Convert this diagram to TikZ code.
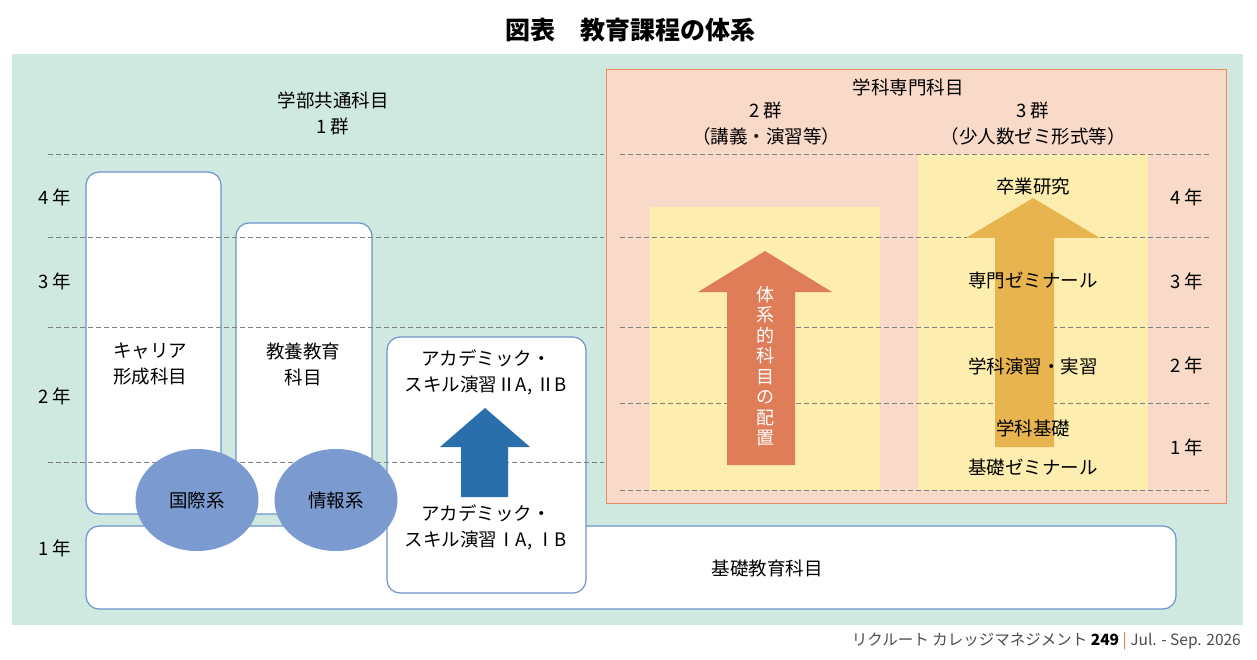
\documentclass[tikz,border=0pt]{standalone}
\usepackage{fontspec}
\setmainfont{Noto Sans CJK JP}
\usetikzlibrary{shapes, positioning}

\definecolor{bggreen}{HTML}{D0E9E0}
\definecolor{pinkbg}{HTML}{F9D9C8}
\definecolor{pinkline}{HTML}{EE8B63}
\definecolor{paleyellow}{HTML}{FDEDAE}
\definecolor{boxblue}{HTML}{6E92CC}
\definecolor{fieldblue}{HTML}{7B9AD0}
\definecolor{arrowblue}{HTML}{2A6EAB}
\definecolor{arroworange}{HTML}{E07D59}
\definecolor{arrowgold}{HTML}{E8B450}
\definecolor{footred}{HTML}{D9763E}

\begin{document}
\begin{tikzpicture}[x=1pt, y=-1pt,
        every node/.style={font=\fontsize{18.5}{26}\selectfont, align=center, inner sep=0pt},
        subject/.style={draw=boxblue, line width=1.2pt, fill=white, rounded corners=13pt},
        field/.style={ellipse, fill=fieldblue, minimum width=123, minimum height=102},
        yearline/.style={gray, dash pattern=on 5pt off 3pt, line width=0.8pt}]
        \useasboundingbox (0,0) rectangle (1257,660);

        % backgrounds
        \fill[bggreen] (12,54) rectangle (1243,625);
        \filldraw[fill=pinkbg, draw=pinkline, line width=1pt] (606,70) rectangle (1226,503);
        \fill[paleyellow] (650,207) rectangle (880,490);
        \fill[paleyellow] (918,154) rectangle (1148,490);

        \node[font=\fontsize{25}{28}\selectfont\bfseries] (title) at (630,30) {図表　教育課程の体系};

        % subjects
        \node[subject, minimum width=1090, minimum height=83] (basic) at (631,567.5) {};
        \node[subject, minimum width=135, minimum height=342] (career) at (153.5,343) {};
        \node[subject, minimum width=136, minimum height=291] (liberal) at (304,368.5) {};
        \node[subject, minimum width=199, minimum height=256] (academic) at (486.5,465) {};

        % year lines
        \foreach \y in {154, 237, 327, 462}
            \draw[yearline] (48,\y) -- (604,\y);
        \foreach \y in {154, 237, 327, 403, 490}
            \draw[yearline] (620,\y) -- (1210,\y);

        % arrows
        \fill[arrowblue] (485,408) -- (530,447) -- (508,447) -- (508,497)
            -- (461,497) -- (461,447) -- (440,447) -- cycle;
        \fill[arroworange] (765,251) -- (832,292) -- (795,292) -- (795,465)
            -- (727,465) -- (727,292) -- (698,292) -- cycle;
        \fill[arrowgold] (1033,198) -- (1100,238) -- (1054,238) -- (1054,447)
            -- (995,447) -- (995,238) -- (966,238) -- cycle;

        \node[field] (intl) at (197,500) {国際系};
        \node[field] (info) at (336,500) {情報系};

        % texts
        \node (common) at (333,113) {学部共通科目\\1 群};
        \node (careertext) at (150,364) {キャリア\\形成科目};
        \node (liberaltext) at (303,364) {教養教育\\科目};
        \node (acad2) at (486,372) {アカデミック・\\スキル演習ⅡA, ⅡB};
        \node (acad1) at (486,527) {アカデミック・\\スキル演習ⅠA, ⅠB};
        \node (basictext) at (767,568) {基礎教育科目};

        \node (major) at (908,87) {学科専門科目};
        \node (group2) at (766,124) {2 群\\（講義・演習等）};
        \node (group3) at (1033,124) {3 群\\（少人数ゼミ形式等）};
        \node[text=white, font=\fontsize{18}{20.5}\selectfont] (system) at (765,366)
            {体\\系\\的\\科\\目\\の\\配\\置};
        \node (thesis) at (1033,186) {卒業研究};
        \node (seminar) at (1033,281) {専門ゼミナール};
        \node (practice) at (1033,366) {学科演習・実習};
        \node (founda) at (1033,428) {学科基礎};
        \node (basicsem) at (1033,467) {基礎ゼミナール};

        % years
        \foreach \t/\y in {4/197, 3/281, 2/396, 1/548}
            \node (left\t) at (55,\y) {\t\ 年};
        \foreach \t/\y in {4/197, 3/281, 2/365, 1/447}
            \node (right\t) at (1187,\y) {\t\ 年};

        \node[anchor=east, text=black!70, font=\fontsize{15.5}{18}\selectfont] (footer) at (1241,641)
            {リクルート カレッジマネジメント \textbf{\color{black}249} {\color{footred}|} Jul. - Sep. 2026};
\end{tikzpicture}
\end{document}
